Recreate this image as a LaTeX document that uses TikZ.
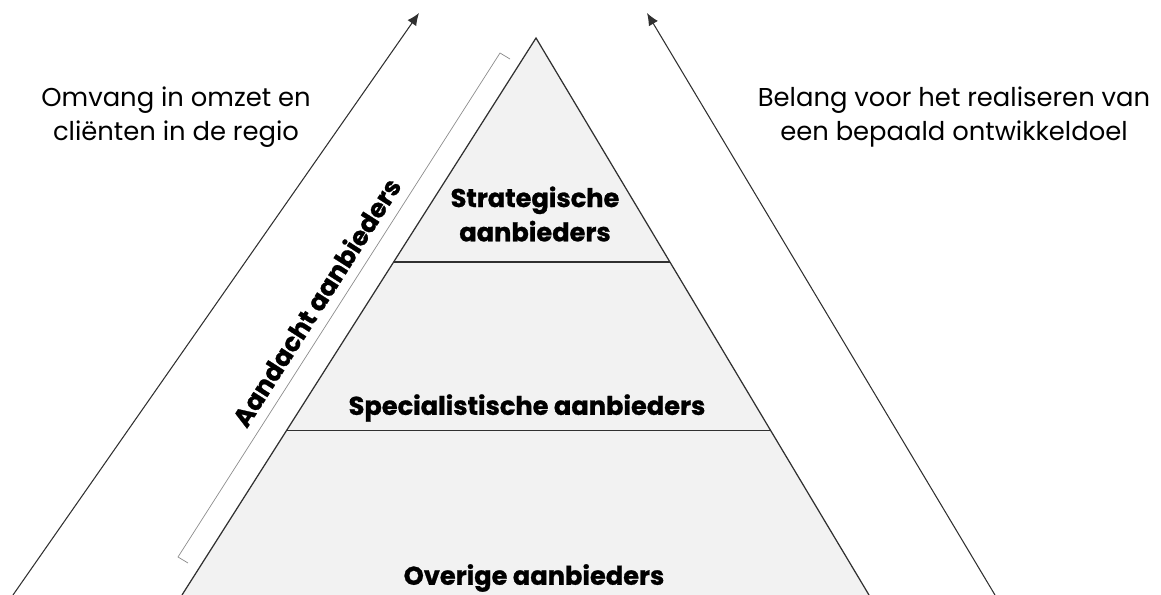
\documentclass[tikz,border=0pt]{standalone}
\usepackage{fontspec}
\setmainfont{Poppins}[BoldFeatures={FakeBold=1}]
\usetikzlibrary{arrows.meta,calc}

\definecolor{layerfill}{HTML}{F2F2F2}
\definecolor{edge}{HTML}{303030}

\tikzset{
  layer/.style={font=\bfseries\fontsize{14.6}{19.5}\selectfont, align=center},
  side/.style={font=\fontsize{14.7}{19}\selectfont, align=center},
  axis/.style={draw=edge, line width=0.6pt, -{Latex[length=7pt,width=6pt]}},
}

\begin{document}
\begin{tikzpicture}[x=0.02cm,y=-0.02cm]
  \useasboundingbox (0,0) rectangle (1161,595);
  % pyramid
  \coordinate (top) at (536,38);
  \coordinate (bl) at (182,595);
  \coordinate (br) at (869,595);
  \fill[layerfill] (bl) -- (top) -- (br) -- cycle;
  \draw[edge, line width=0.7pt] (bl) -- (top) -- (br);
  \coordinate (cut1l) at ($(top)!0.402!(bl)$);
  \coordinate (cut1r) at ($(top)!0.402!(br)$);
  \coordinate (cut2l) at ($(top)!0.704!(bl)$);
  \coordinate (cut2r) at ($(top)!0.704!(br)$);
  \draw[edge, line width=0.7pt] (cut1l) -- (cut1r);
  \draw[edge, line width=0.7pt] (cut2l) -- (cut2r);
  \node[layer] (strat) at (535,214) {Strategische\\aanbieders};
  \node[layer] (spec) at (527,408) {Specialistische aanbieders};
  \node[layer] (over) at (534,578) {Overige aanbieders};

  % bracket
  \draw[black!45, line width=0.4pt] (510,59) -- (500,53) -- (178,557) -- (188,563);
  \node[layer, rotate=57.4] (aandacht) at (316,302) {Aandacht aanbieders};

  % axes
  \coordinate (omvang0) at (13,595);
  \coordinate (omvang1) at (419,13);
  \coordinate (belang0) at (995,595);
  \coordinate (belang1) at (647,13);
  \draw[axis] (omvang0) -- (omvang1);
  \draw[axis] (belang0) -- (belang1);
  \node[side] (omvang) at (176,117) {Omvang in omzet en\\cliënten in de regio};
  \node[side] (belang) at (954,117) {Belang voor het realiseren van\\een bepaald ontwikkeldoel};
\end{tikzpicture}
\end{document}
